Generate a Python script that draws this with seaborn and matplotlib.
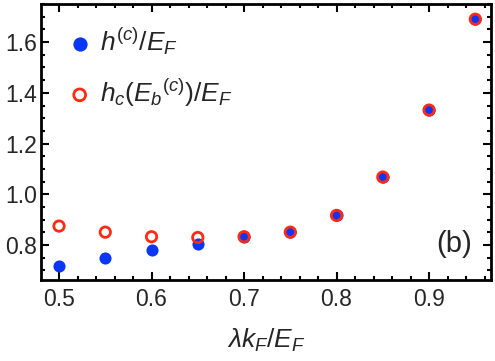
import matplotlib
matplotlib.use('Agg')
import matplotlib.pyplot as plt
from matplotlib.ticker import MultipleLocator
import seaborn as sns

# data
lam = [0.50, 0.55, 0.60, 0.65, 0.70, 0.75, 0.80, 0.85, 0.90, 0.95]
h_c = [0.717, 0.750, 0.779, 0.805, 0.833, 0.851, 0.917, 1.068, 1.332, 1.690]
h_eb = [0.875, 0.851, 0.833, 0.830, 0.833, 0.851, 0.917, 1.068, 1.332, 1.690]

sns.set_style('ticks')
plt.rcParams['font.family'] = ['Liberation Sans', 'DejaVu Sans']
plt.rcParams['mathtext.fontset'] = 'custom'
plt.rcParams['mathtext.it'] = 'Liberation Sans:italic'
plt.rcParams['mathtext.rm'] = 'Liberation Sans'

blue = '#0a37f5'
red = '#ff2a14'

fig = plt.figure(figsize=(4.95, 3.61), dpi=100)
ax = fig.add_axes([0.083, 0.224, 0.909, 0.765])

sns.scatterplot(x=lam, y=h_c, color=blue, s=76, linewidth=0, ax=ax,
                label=r'$h^{(c)}/E_F$', zorder=3)
sns.scatterplot(x=lam, y=h_eb, facecolor='none', edgecolor=red, s=56,
                linewidth=2.0, ax=ax, label=r'$h_c(E_b{}^{(c)})/E_F$', zorder=4)

ax.set_xlim(0.4806, 0.967)
ax.set_ylim(0.662, 1.75)
ax.xaxis.set_major_locator(MultipleLocator(0.1))
ax.xaxis.set_minor_locator(MultipleLocator(0.02))
ax.yaxis.set_major_locator(MultipleLocator(0.2))
ax.yaxis.set_minor_locator(MultipleLocator(0.05))
ax.tick_params(which='both', direction='in', top=True, right=True,
               width=1.5, color='black')
ax.tick_params(which='major', length=6, labelsize=16.5, pad=6)
ax.tick_params(which='minor', length=3)
ax.tick_params(axis='y', which='major', pad=3)
for sp in ax.spines.values():
    sp.set_linewidth(2)
    sp.set_color('black')

ax.set_xlabel(r'$\lambda k_F/E_F$', fontsize=19, labelpad=11)

leg = ax.legend(loc='upper left', bbox_to_anchor=(0.033, 0.96), frameon=False,
                fontsize=19, labelspacing=0.75, handletextpad=0.28,
                borderaxespad=0, handlelength=1.0)
leg.legend_handles[0].set_sizes([105])
leg.legend_handles[1].set_sizes([72])

ax.text(0.958, 0.13, '(b)', transform=ax.transAxes, fontsize=21,
        ha='right', va='center')

fig.savefig('out.png', dpi=100)
